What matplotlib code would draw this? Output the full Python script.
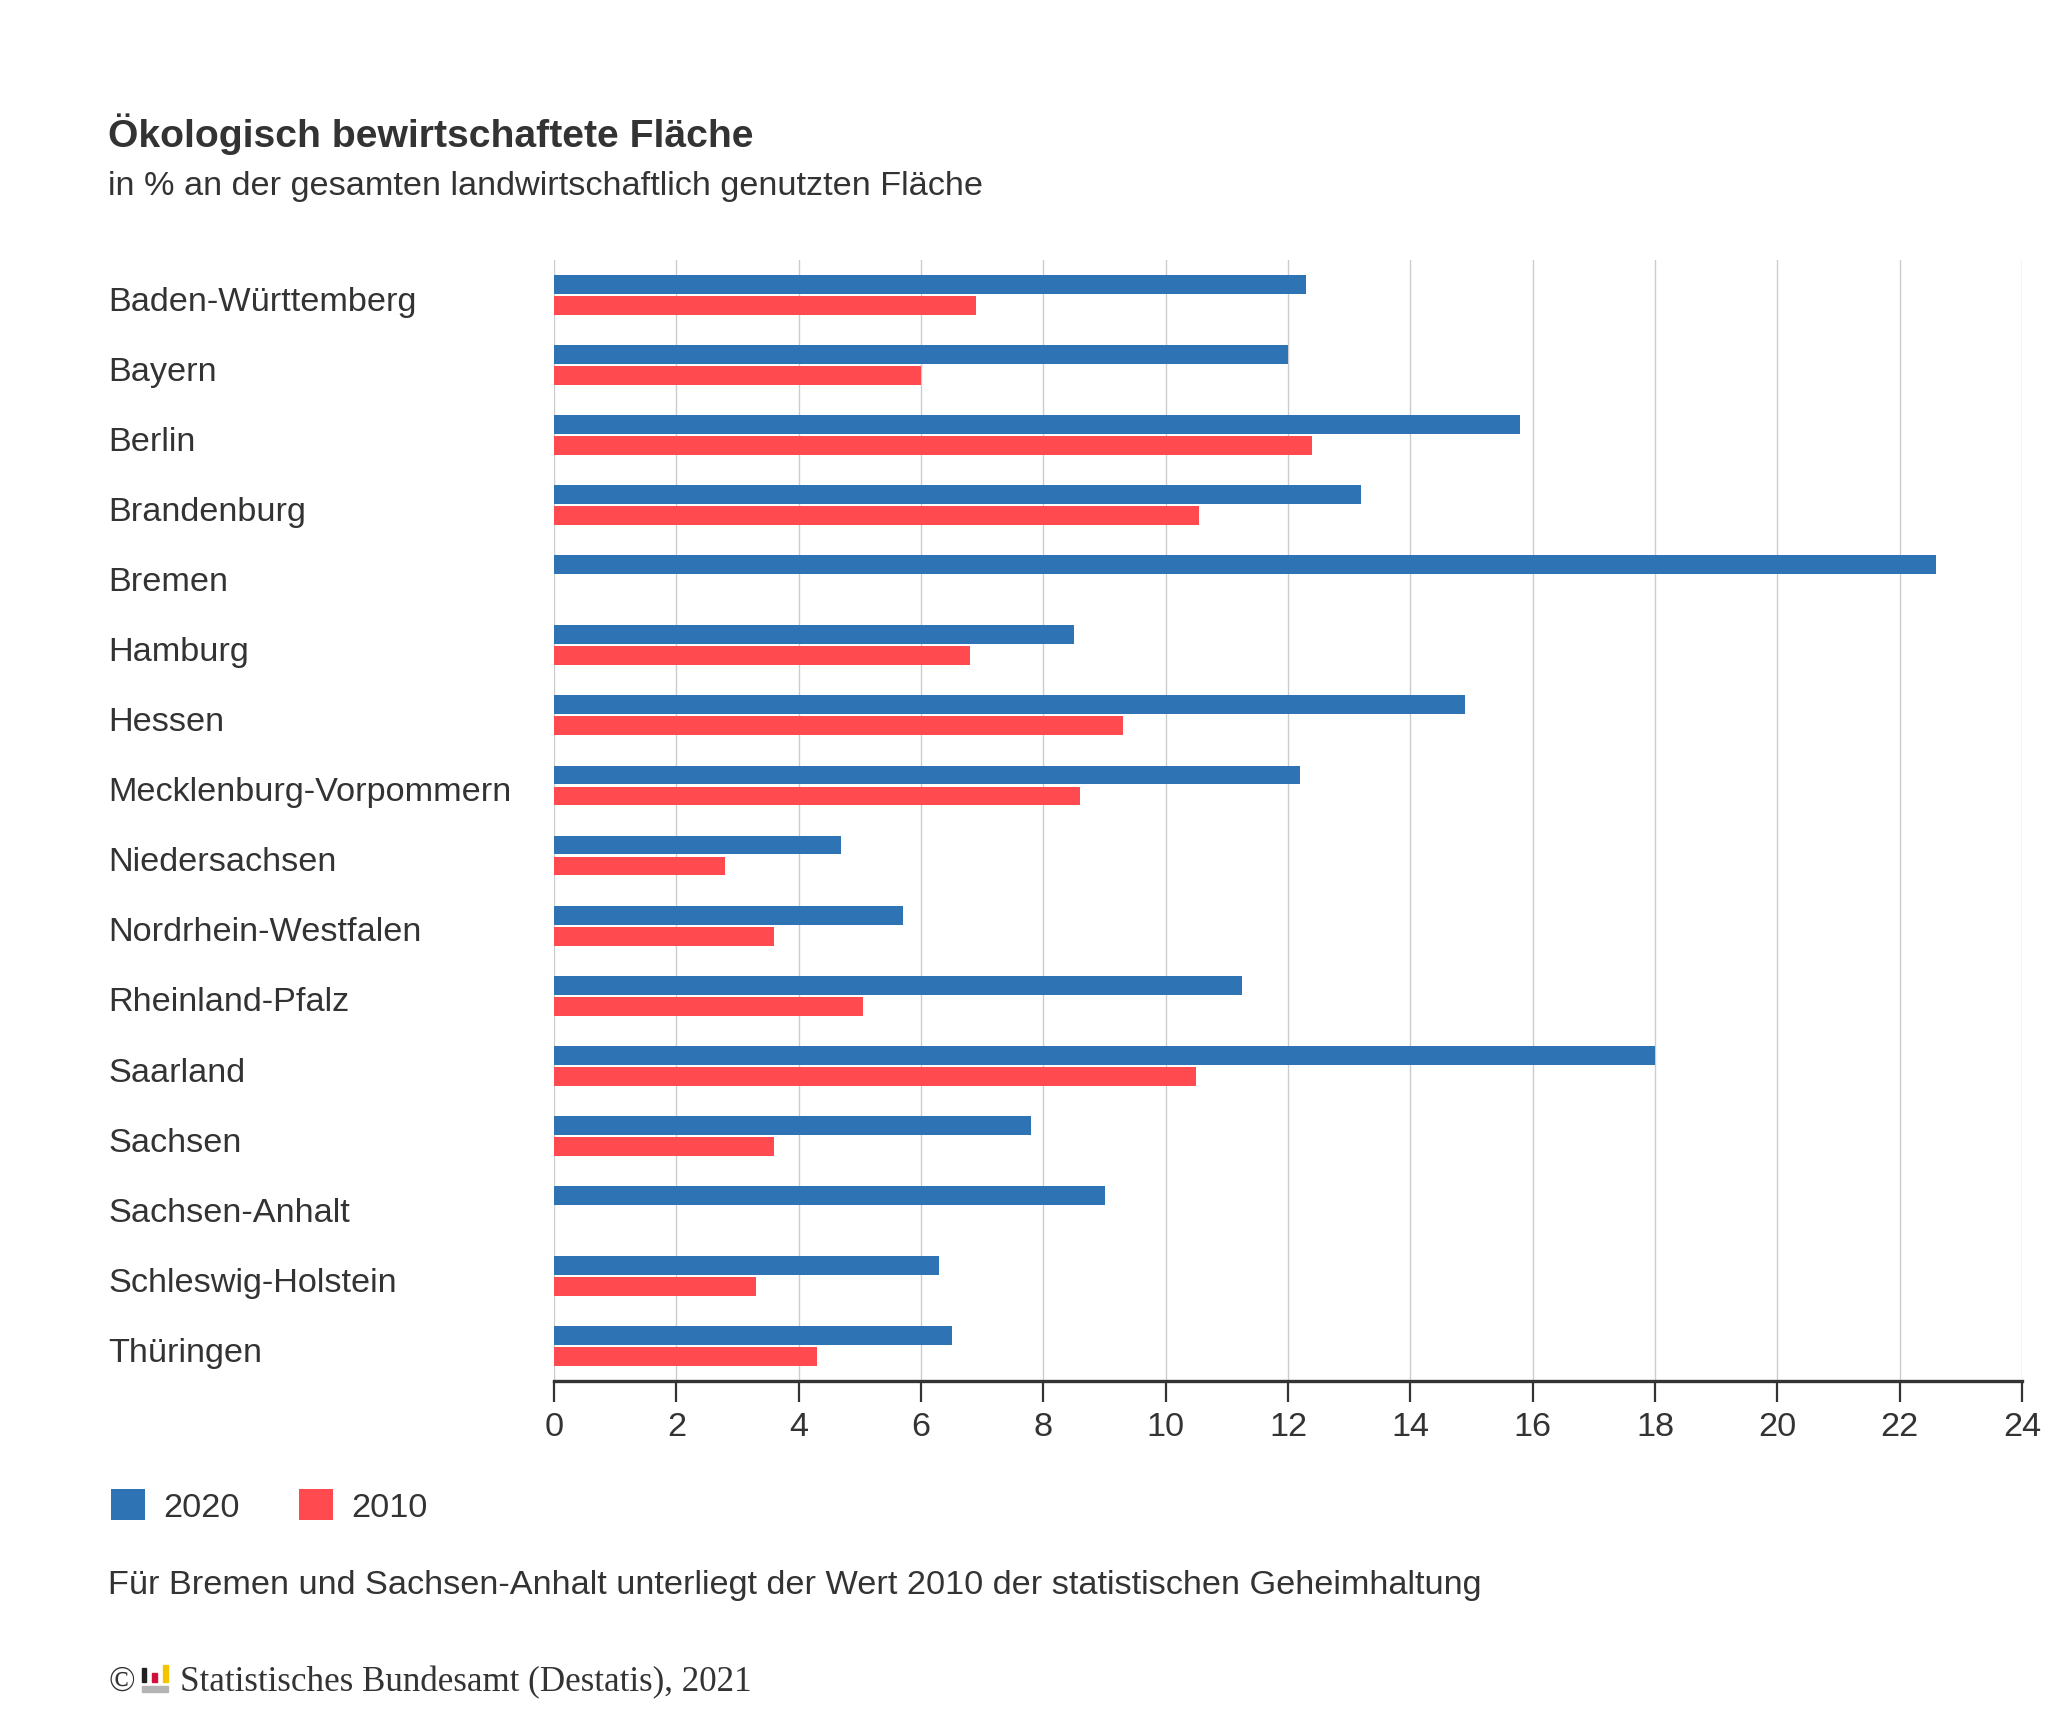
import numpy as np
import matplotlib
matplotlib.use('Agg')
import matplotlib.pyplot as plt
import matplotlib.patches as mpatches
import matplotlib.transforms as mtransforms

plt.rcParams['font.family'] = ['Liberation Sans', 'DejaVu Sans']

laender = ['Baden-Württemberg', 'Bayern', 'Berlin', 'Brandenburg', 'Bremen',
           'Hamburg', 'Hessen', 'Mecklenburg-Vorpommern', 'Niedersachsen',
           'Nordrhein-Westfalen', 'Rheinland-Pfalz', 'Saarland', 'Sachsen',
           'Sachsen-Anhalt', 'Schleswig-Holstein', 'Thüringen']
werte_2020 = [12.3, 12.0, 15.8, 13.2, 22.6, 8.5, 14.9, 12.2, 4.7, 5.7,
              11.25, 18.0, 7.8, 9.0, 6.3, 6.5]
# Bremen und Sachsen-Anhalt 2010: Geheimhaltung
werte_2010 = [6.9, 6.0, 12.4, 10.55, np.nan, 6.8, 9.3, 8.6, 2.8, 3.6,
              5.05, 10.5, 3.6, np.nan, 3.3, 4.3]
x_ticks = list(range(0, 25, 2))

blau = '#2e74b5'
rot = '#ff4a50'
text_col = '#333333'
W, H = 2048, 1733
fs = 24.65


def main():
    fig = plt.figure(figsize=(W / 100, H / 100), dpi=100)
    ax = fig.add_axes([554 / W, 1 - 1382 / H, (2022 - 554) / W, (1382 - 261) / H])

    y = np.arange(len(laender))
    b1 = ax.barh(y - 0.15, werte_2020, height=0.27, color=blau, label='2020', zorder=3)
    b2 = ax.barh(y + 0.15, werte_2010, height=0.27, color=rot, label='2010', zorder=3)

    ax.set_ylim(len(laender) - 0.5, -0.5)
    ax.set_xlim(0, 24)
    ax.set_xticks(x_ticks)
    ax.set_yticks([])
    ax.tick_params(axis='x', labelsize=fs, colors=text_col, length=15,
                   width=1.6, pad=6.5)
    for s in ['top', 'right', 'left']:
        ax.spines[s].set_visible(False)
    ax.spines['bottom'].set_color(text_col)
    ax.spines['bottom'].set_linewidth(2.4)
    ax.spines['bottom'].set_zorder(5)
    ax.grid(axis='x', color='#cccccc', linewidth=1.0, zorder=0)

    # Laendernamen links, linksbuendig
    trans = mtransforms.blended_transform_factory(fig.transFigure, ax.transData)
    for i, name in enumerate(laender):
        ax.text(108 / W, i + 0.09, name, transform=trans, ha='left', va='center',
                fontsize=fs, color=text_col)

    fig.text(108 / W, 1 - 134 / H, 'Ökologisch bewirtschaftete Fläche',
             fontsize=28.2, fontweight='bold', color=text_col, va='center')
    fig.text(108 / W, 1 - 187 / H,
             'in % an der gesamten landwirtschaftlich genutzten Fläche',
             fontsize=fs, color=text_col, va='center')

    fig.legend(handles=[b1, b2], loc='center left',
               bbox_to_anchor=(111 / W, 1 - 1507 / H), frameon=False,
               fontsize=fs, ncol=2, handlelength=1.0, handleheight=1.0,
               handletextpad=0.53, columnspacing=1.73, borderpad=0,
               borderaxespad=0, labelcolor=text_col)

    fig.text(108 / W, 1 - 1586 / H,
             'Für Bremen und Sachsen-Anhalt unterliegt der Wert 2010 der statistischen Geheimhaltung',
             fontsize=fs, color=text_col, va='center')

    # Quelle mit kleinem Logo
    fig.text(108 / W, 1 - 1691 / H, '©', fontsize=25.2, color=text_col,
             family='Liberation Serif', va='baseline')
    for x0, x1, y0, y1, c in [(142, 146, 1669, 1683, '#222222'),
                              (152, 157, 1674, 1683, '#d0103a'),
                              (163, 168, 1666, 1683, '#f5c400'),
                              (142, 168, 1687, 1693, '#b4b4b4')]:
        fig.patches.append(mpatches.Rectangle((x0 / W, 1 - y1 / H), (x1 - x0) / W,
                                              (y1 - y0) / H, color=c,
                                              transform=fig.transFigure))
    fig.text(180 / W, 1 - 1691 / H, 'Statistisches Bundesamt (Destatis), 2021',
             fontsize=25.2, color=text_col, family='Liberation Serif', va='baseline')

    fig.savefig('out.png', dpi=100)


if __name__ == '__main__':
    main()
